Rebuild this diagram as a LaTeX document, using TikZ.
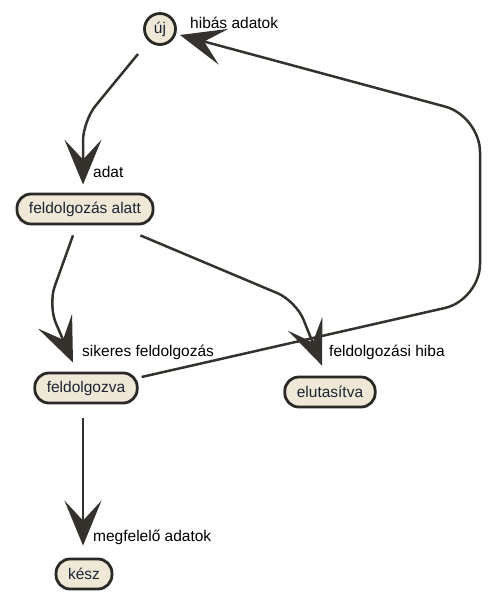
\documentclass[tikz,border=0pt]{standalone}
\usepackage{fontspec}
\setmainfont{Liberation Sans}
\usetikzlibrary{arrows.meta,calc}
\definecolor{linec}{HTML}{35322D}
\definecolor{nodefill}{HTML}{F0E8D6}
\definecolor{nodeline}{HTML}{2B2925}
\definecolor{nodetext}{HTML}{1A2433}
\tikzset{
  state/.style={draw=nodeline, line width=2.8pt, fill=nodefill, text=nodetext,
    rounded corners=14pt, minimum height=30pt, inner xsep=12pt, inner ysep=0pt,
    font=\fontsize{15.5}{18}\selectfont},
  startstate/.style={circle, draw=nodeline, line width=2.8pt, fill=nodefill, text=nodetext,
    minimum size=31pt, inner sep=0pt, font=\fontsize{15.5}{18}\selectfont},
  edge/.style={draw=linec, line width=2.5pt, rounded corners=20pt,
    -{Stealth[length=45pt,width=37pt,inset=20pt]}},
  lbl/.style={anchor=west, inner sep=0pt, text=black, font=\fontsize{15.5}{18}\selectfont}
}
\begin{document}
\begin{tikzpicture}[x=1pt,y=-1pt]
\useasboundingbox (0,0) rectangle (493,600);
\node[startstate] (uj) at (160,29) {új};
\node[state] (fa) at (85,209) {feldolgozás alatt};
\node[state] (fv) at (86,388) {feldolgozva};
\node[state] (el) at (330,392) {elutasítva};
\node[state] (kesz) at (84,574) {kész};

\coordinate (c1) at (83,121);
\coordinate (c2) at (48,305);
\coordinate (c3) at (296,301);
\coordinate (c4) at (480,300);
\coordinate (c5) at (480,116);

\draw[edge] ($(uj)+(-22,25)$) -- (c1) -- ($(fa.north)+(-2,-8)$);
\draw[edge] ($(fa.south)+(-12,10)$) -- (c2) -- ($(fv.north)+(-13,-9)$);
\draw[edge] ($(fa.south east)+(-14,10)$) -- (c3) -- ($(el.north)+(-8,-10)$);
\draw[edge, rounded corners=36pt] ($(fv.east)+(3,-11)$) -- (c4) -- (c5) -- ($(uj)+(20,6)$);
\draw[edge] ($(fv.south)+(-3,14)$) -- ($(kesz.north)+(-1,-12)$);

\node[lbl] (l1) at (190,23) {hibás adatok};
\node[lbl] (l2) at (93,172) {adat};
\node[lbl] (l3) at (82,352) {sikeres feldolgozás};
\node[lbl] (l4) at (329,352) {feldolgozási hiba};
\node[lbl] (l5) at (93,537) {megfelelő adatok};
\end{tikzpicture}
\end{document}
